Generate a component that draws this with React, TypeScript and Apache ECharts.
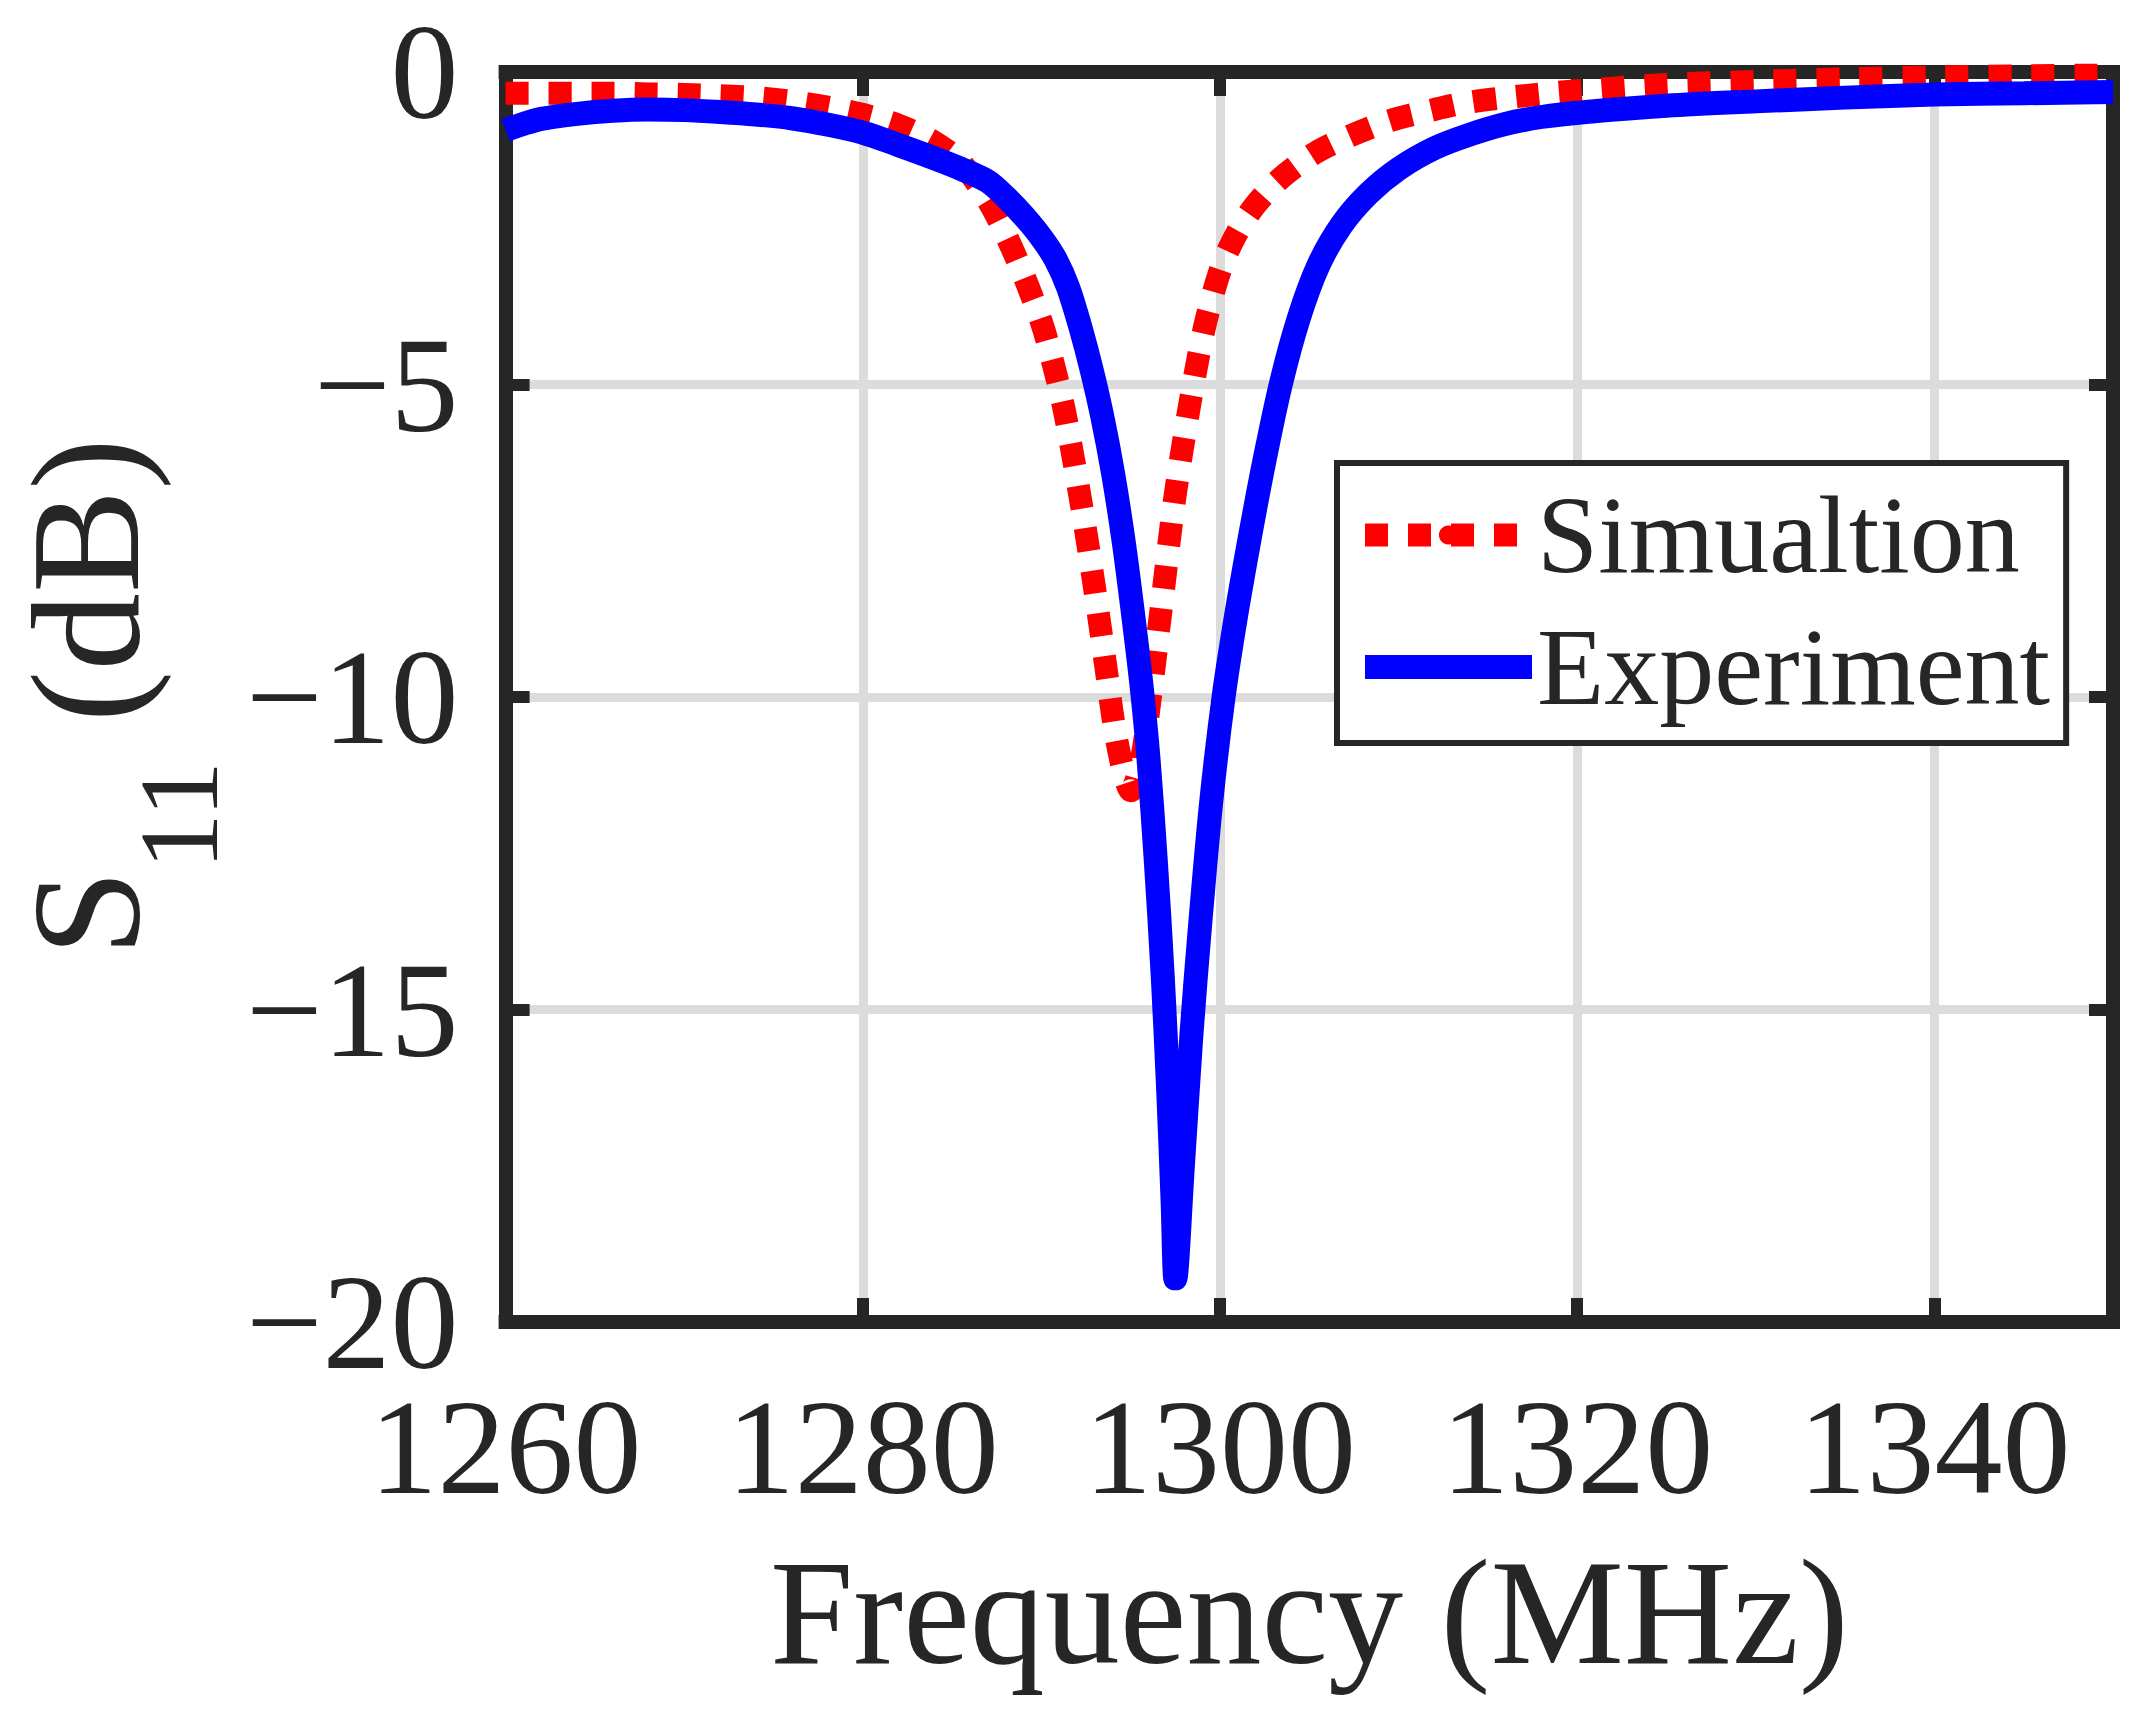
import { useEffect, useRef } from "react"
import * as echarts from "echarts"

// Simulation curve (MHz, dB)
const simFreq = [
  1260, 1262, 1264, 1266, 1268, 1270, 1272, 1274, 1276, 1278, 1280, 1282, 1284, 1285.5, 1287,
  1288, 1289, 1290, 1290.6, 1291.2, 1291.8, 1292.4, 1293, 1293.6, 1294.1, 1294.6, 1295,
  1295.6, 1296.1, 1296.7, 1297.5, 1298.5, 1299.2, 1300.1, 1301, 1302, 1303.4, 1305.3, 1307.3,
  1309.5, 1312, 1314, 1317, 1320, 1325, 1330, 1335, 1340, 1345, 1350,
]
const simS11 = [
  -0.34, -0.34, -0.34, -0.34, -0.35, -0.36, -0.38, -0.41, -0.47, -0.56, -0.68, -0.85, -1.12, -1.45, -2.05,
  -2.6, -3.25, -4.0, -4.6, -5.3, -6.2, -7.2, -8.3, -9.5, -10.5, -11.2, -11.5,
  -11.0, -10.0, -8.6, -6.75, -5.0, -4.0, -3.1, -2.55, -2.12, -1.7, -1.3, -1.02,
  -0.78, -0.6, -0.48, -0.38, -0.3, -0.2, -0.15, -0.11, -0.08, -0.06, -0.05,
]

// Measured curve (MHz, dB)
const expFreq = [
  1260, 1261, 1262, 1264, 1266, 1268, 1270, 1272, 1274, 1276, 1278, 1280, 1282, 1284, 1285.5,
  1287, 1288, 1289, 1290, 1290.8, 1291.5, 1292.2, 1292.8, 1293.4, 1294, 1294.6, 1295.1, 1295.6,
  1296, 1296.4, 1296.8, 1297.1, 1297.35, 1297.5, 1297.9, 1298.4, 1298.9, 1299.5, 1300.2, 1300.9,
  1301.7, 1302.5, 1303.4, 1304.4, 1305.5, 1306.8, 1308.3, 1310, 1312, 1314, 1316, 1318, 1320.5,
  1325, 1330, 1335, 1340, 1345, 1350,
]
const expS11 = [
  -0.93, -0.83, -0.75, -0.67, -0.62, -0.6, -0.61, -0.64, -0.68, -0.74, -0.84, -0.97, -1.17, -1.38, -1.55,
  -1.75, -2.0, -2.3, -2.65, -3.0, -3.45, -4.1, -4.75, -5.5, -6.4, -7.5, -8.6, -9.8,
  -11.0, -12.6, -14.5, -16.3, -18.1, -19.3, -17.6, -15.4, -13.6, -11.7, -10.0, -8.7,
  -7.4, -6.2, -5.0, -3.95, -3.1, -2.45, -1.95, -1.55, -1.22, -1.0, -0.83, -0.72, -0.64,
  -0.54, -0.47, -0.41, -0.36, -0.34, -0.32,
]

const FONT = '"Liberation Serif", "Times New Roman", serif'
const DARK = "#262626"

const minus = (v: number) => String(v).replace("-", "\u2212")

const frame = {
  axisLine: { show: true, onZero: false, lineStyle: { color: DARK, width: 14, cap: "square" } },
  axisTick: { show: true, inside: true, length: 24, lineStyle: { color: DARK, width: 12 } },
}

export default function App() {
  const chartRef = useRef<HTMLDivElement>(null)

  useEffect(() => {
    if (!chartRef.current) return
    const chart = echarts.init(chartRef.current, null, { renderer: "svg" })

    const option = {
      animation: false,
      backgroundColor: "#fff",
      grid: { left: 485, right: 42, top: 72, bottom: 394 },
      legend: {
        orient: "vertical",
        left: 1337,
        top: 463,
        data: ["Simualtion", "Experiment"],
        itemWidth: 167,
        itemHeight: 24,
        itemGap: 0,
        padding: [6, 16, 10, 16],
        borderColor: DARK,
        borderWidth: 6,
        backgroundColor: "#fff",
        selectedMode: false,
        lineStyle: { width: "inherit", type: "inherit" },
        textStyle: {
          fontFamily: FONT,
          fontSize: 110,
          color: DARK,
          lineHeight: 132,
        },
      },
      xAxis: [
        {
          type: "value",
          position: "bottom",
          min: 1260,
          max: 1350,
          interval: 20,
          ...frame,
          axisLabel: {
            margin: 70,
            fontFamily: FONT,
            fontSize: 136,
            lineHeight: 110,
            color: DARK,
            showMaxLabel: false,
            formatter: minus,
          },
          splitLine: { show: true, lineStyle: { color: "#dcdcdc", width: 9 } },
          name: "Frequency (MHz)",
          nameLocation: "middle",
          nameGap: 215,
          nameTextStyle: { fontFamily: FONT, fontSize: 150, color: DARK },
        },
        {
          type: "value",
          position: "top",
          min: 1260,
          max: 1350,
          interval: 20,
          ...frame,
          axisLabel: { show: false },
          splitLine: { show: false },
        },
      ],
      yAxis: [
        {
          type: "value",
          position: "left",
          min: -20,
          max: 0,
          interval: 5,
          ...frame,
          axisLabel: {
            margin: 47,
            fontFamily: FONT,
            fontSize: 136,
            lineHeight: 110,
            padding: [14, 0, 0, 0],
            color: DARK,
            formatter: minus,
          },
          splitLine: { show: true, lineStyle: { color: "#dcdcdc", width: 9 } },
          name: "{a|S}{b|11}{a| (dB)}",
          nameLocation: "middle",
          nameRotate: 90,
          nameGap: 247,
          nameTextStyle: {
            rich: {
              a: { fontFamily: FONT, fontSize: 155, lineHeight: 170, verticalAlign: "top", color: DARK },
              b: { fontFamily: FONT, fontSize: 113, padding: [114, 0, 0, 0], verticalAlign: "top", color: DARK },
            },
          },
        },
        {
          type: "value",
          position: "right",
          min: -20,
          max: 0,
          interval: 5,
          ...frame,
          axisLabel: { show: false },
          splitLine: { show: false },
        },
      ],
      series: [
        {
          name: "Simualtion",
          type: "line",
          symbol: "none",
          smooth: 0.3,
          data: simFreq.map((f, i) => [f, simS11[i]]),
          itemStyle: { color: "#ff0000" },
          lineStyle: { color: "#ff0000", width: 23, type: [23, 20], cap: "butt" },
        },
        {
          name: "Experiment",
          type: "line",
          symbol: "none",
          smooth: 0.3,
          data: expFreq.map((f, i) => [f, expS11[i]]),
          itemStyle: { color: "#0000ff" },
          lineStyle: { color: "#0000ff", width: 24, type: "solid" },
        },
      ],
    }

    chart.setOption(option)
    return () => chart.dispose()
  }, [])

  return (
    <div
      ref={chartRef}
      style={{ position: "absolute", left: 0, top: 0, width: 2155, height: 1716, background: "#fff" }}
    />
  )
}
